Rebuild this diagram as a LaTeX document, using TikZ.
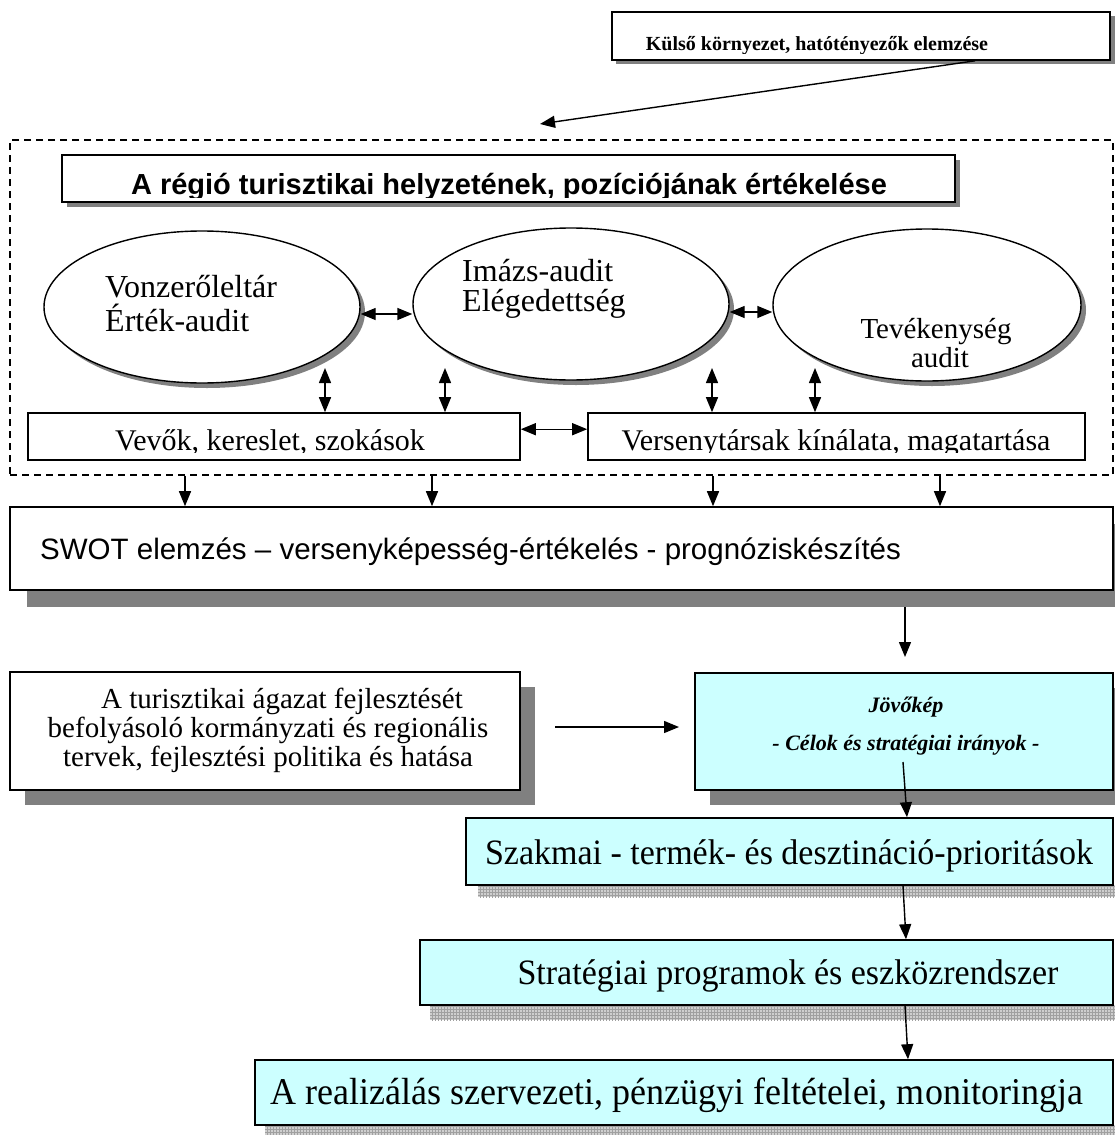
\documentclass[tikz,border=0pt]{standalone}
\usepackage{fontspec}
\usepackage{graphicx}
\setmainfont{Liberation Serif}
\setsansfont{Liberation Sans}
\usetikzlibrary{arrows.meta,shapes.geometric,patterns}
\definecolor{lcyan}{HTML}{CCFFFF}
\definecolor{shgray}{HTML}{808080}
\definecolor{hatchbg}{HTML}{CFCFCF}
\definecolor{hatchln}{HTML}{A0A0A0}
\begin{document}
\begin{tikzpicture}[x=1pt,y=-1pt,
  box/.style={draw, line width=1.6pt, fill=white, inner sep=0pt},
  cbox/.style={box, fill=lcyan},
  oval/.style={draw, ellipse, line width=1.4pt, fill=white, inner sep=0pt},
  txt/.style={inner sep=0pt},
  arr/.style={line width=1.4pt, -{Triangle[length=15pt,width=12pt]}},
  dbl/.style={line width=1.4pt, {Triangle[length=15pt,width=12pt]}-{Triangle[length=15pt,width=12pt]}},
  shadow/.style={fill=shgray},
  hshadow/.style={fill=hatchbg, postaction={pattern=grid, pattern color=hatchln}},
  zonestyle/.style={draw, line width=1.1pt, dash pattern=on 7pt off 5pt, inner sep=0pt}
]
\useasboundingbox (0,0) rectangle (1115,1135);

% ---------- external analysis box ----------
\fill[shadow] (616,16) rectangle (1115,64);
\node[box, minimum width=498pt, minimum height=48pt] (ext) at (861,36) {};
\begin{scope}
  \clip (612,12) rectangle (1110,53);
  \node[txt, anchor=base, font=\bfseries\fontsize{20}{20}\selectfont] (extt) at (817,50) {Külső környezet, hatótényezők elemzése};
\end{scope}

% ---------- dashed zone ----------
\node[zonestyle, minimum width=1103pt, minimum height=335pt] (zone) at (561.5,307.5) {};
\coordinate (extfoot) at (975,0);
\coordinate (zonetip) at (540,124);
\draw[arr] (ext.south -| extfoot) -- (zonetip);

% ---------- title box ----------
\fill[shadow] (67,160) rectangle (960,207);
\node[box, minimum width=893pt, minimum height=47pt] (title) at (508.5,178.5) {};
\begin{scope}
  \clip (62,155) rectangle (955,197);
  \node[txt, anchor=base, font=\sffamily\bfseries\fontsize{29}{29}\selectfont] (titlet) at (509,194) {A régió turisztikai helyzetének, pozíciójának értékelése};
\end{scope}

% ---------- ellipses ----------
\fill[shadow] (207,312) ellipse [x radius=158, y radius=76];
\node[oval, minimum width=316pt, minimum height=152pt] (e1) at (202,307) {};
\fill[shadow] (576,309) ellipse [x radius=158, y radius=76];
\node[oval, minimum width=316pt, minimum height=152pt] (e2) at (571,304) {};
\fill[shadow] (932,310) ellipse [x radius=154, y radius=76];
\node[oval, minimum width=308pt, minimum height=152pt] (e3) at (927,305) {};

\node[txt, anchor=base west, font=\fontsize{32}{32}\selectfont] (e1a) at (105,297) {Vonzerőleltár};
\node[txt, anchor=base west, font=\fontsize{32}{32}\selectfont] (e1b) at (105,331) {Érték-audit};
\node[txt, anchor=base west, font=\fontsize{32}{32}\selectfont] (e2a) at (462,281) {Imázs-audit};
\node[txt, anchor=base west, font=\fontsize{32}{32}\selectfont] (e2b) at (462,311) {Elégedettség};
\node[txt, anchor=base, font=\fontsize{29}{29}\selectfont] (e3a) at (936,338) {Tevékenység};
\node[txt, anchor=base, font=\fontsize{29}{29}\selectfont] (e3b) at (940,367) {audit};

% ---------- lower boxes in zone ----------
\node[box, minimum width=492pt, minimum height=47pt] (vev) at (274,436.5) {};
\begin{scope}
  \clip (28,413) rectangle (520,452);
  \node[txt, anchor=base, font=\fontsize{30}{30}\selectfont] (vevt) at (270,450) {Vevők, kereslet, szokások};
\end{scope}
\node[box, minimum width=497pt, minimum height=47pt] (vers) at (836.5,436.5) {};
\begin{scope}
  \clip (588,413) rectangle (1085,452);
  \node[txt, anchor=base, font=\fontsize{30}{30}\selectfont] (verst) at (836,450) {Versenytársak kínálata, magatartása};
\end{scope}

% ---------- arrows in zone ----------
\draw[dbl] ([yshift=-7pt]e1.east) -- ([yshift=-7pt]e1.east -| e2.west);
\draw[dbl] ([yshift=-8pt]e2.east) -- ([yshift=-8pt]e2.east -| e3.west);
\coordinate (v1) at (325,368);
\coordinate (v2) at (445,368);
\coordinate (v3) at (712,368);
\coordinate (v4) at (815,368);
\foreach \v in {v1,v2,v3,v4} \draw[dbl] (\v) -- (\v |- vev.north);
\draw[dbl] ([yshift=-17pt]vev.north east) -- ([yshift=-17pt]vev.north east -| vers.west);

% ---------- SWOT ----------
\fill[shadow] (27,524) rectangle (1130,607);
\node[box, minimum width=1103pt, minimum height=83pt] (swot) at (561.5,548.5) {};
\node[txt, anchor=base west, font=\sffamily\fontsize{29.5}{29.5}\selectfont] (swott) at (40,559) {SWOT elemzés – versenyképesség-értékelés - prognóziskészítés};
\foreach \x in {185,432,713,940} \draw[arr] (zone.south -| \x,0) -- (swot.north -| \x,0);

\coordinate (s1) at (905,607);
\coordinate (s2) at (905,657);
\draw[arr] (s1) -- (s2);

% ---------- left box ----------
\fill[shadow] (25,687) rectangle (535,805);
\node[box, minimum width=510pt, minimum height=118pt] (gov) at (265,731) {};
\node[txt, anchor=base, font=\fontsize{29}{29}\selectfont] (gov1) at (282,708) {A turisztikai ágazat fejlesztését};
\node[txt, anchor=base, font=\fontsize{29}{29}\selectfont] (gov2) at (268,737) {befolyásoló kormányzati és regionális};
\node[txt, anchor=base, font=\fontsize{29}{29}\selectfont] (gov3) at (268,766) {tervek, fejlesztési politika és hatása};

% ---------- Jövőkép ----------
\fill[shadow] (710,688) rectangle (1130,805);
\node[cbox, minimum width=418pt, minimum height=117pt] (jov) at (904,731.5) {};
\node[txt, anchor=base, font=\bfseries\itshape\fontsize{22}{22}\selectfont] (jov1) at (906,712) {Jövőkép};
\node[txt, anchor=base, font=\bfseries\itshape\fontsize{22}{22}\selectfont] (jov2) at (906,750) {- Célok és stratégiai irányok -};
\coordinate (l1) at (555,727);
\coordinate (l2) at (679,727);
\draw[arr] (l1) -- (l2);

% ---------- Szakmai ----------
\fill[hshadow] (478,885) rectangle (1130,897);
\node[cbox, minimum width=647pt, minimum height=67pt] (szak) at (789.5,851.5) {};
\node[txt, anchor=base, font=\fontsize{34}{34}\selectfont] (szakt) at (789,864) {\scalebox{1}[1.05]{Szakmai - termék- és desztináció-prioritások}};
\coordinate (j1) at (903,762);
\coordinate (j2) at (907,0);
\draw[arr] (j1) -- (szak.north -| j2);

% ---------- Stratégiai ----------
\fill[hshadow] (430,1005) rectangle (1130,1020);
\node[cbox, minimum width=693pt, minimum height=65pt] (strat) at (766.5,972.5) {};
\node[txt, anchor=base, font=\fontsize{34}{34}\selectfont] (stratt) at (788,984) {\scalebox{1}[1.05]{Stratégiai programok és eszközrendszer}};
\coordinate (k1) at (903,0);
\coordinate (k2) at (906,0);
\draw[arr] (szak.south -| k1) -- (strat.north -| k2);

% ---------- Realizálás ----------
\fill[hshadow] (265,1125) rectangle (1130,1140);
\node[cbox, minimum width=858pt, minimum height=65pt] (real) at (684,1092.5) {};
\node[txt, anchor=base west, font=\fontsize{36}{36}\selectfont] (realt) at (270,1104) {\scalebox{1}[1.05]{A realizálás szervezeti, pénzügyi feltételei, monitoringja}};
\coordinate (m1) at (905,0);
\coordinate (m2) at (908,0);
\draw[arr] (strat.south -| m1) -- (real.north -| m2);
\end{tikzpicture}
\end{document}
